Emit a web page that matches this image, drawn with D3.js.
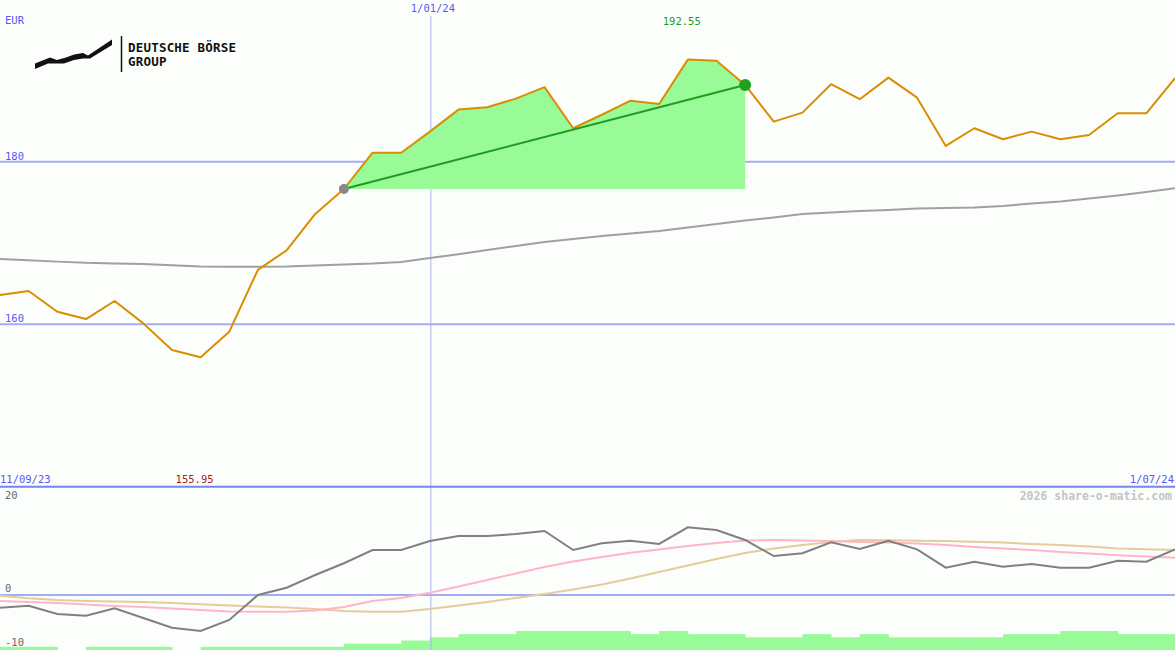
<!DOCTYPE html>
<html><head><meta charset="utf-8">
<script src="https://cdn.jsdelivr.net/npm/d3@7"></script>
<style>
html,body{margin:0;padding:0;background:#fcfefc;}
svg{display:block;}
text{font-family:"DejaVu Sans Mono",monospace;}
</style></head><body>
<svg id="c" width="1175" height="650"></svg>
<script>
// ---- data (weekly closes, index-based) ----
const price = [163.6,164.1,161.55,160.65,162.87,160.12,156.84,155.95,159.1,166.7,169.1,173.57,176.64,181.1,181.1,183.7,186.4,186.69,187.75,189.16,184.11,185.77,187.5,187.1,192.55,192.4,189.43,184.92,186.03,189.52,187.68,190.33,187.87,181.93,184.11,182.76,183.69,182.76,183.28,185.95,185.95,190.26];
const movingAvg = [168.03,167.87,167.71,167.56,167.49,167.42,167.27,167.11,167.08,167.08,167.11,167.23,167.36,167.47,167.66,168.15,168.62,169.14,169.63,170.12,170.49,170.86,171.17,171.48,171.91,172.34,172.77,173.14,173.57,173.75,173.94,174.06,174.24,174.31,174.37,174.55,174.86,175.1,175.47,175.84,176.27,176.73];
const momentum = [-2.62,-2.21,-3.92,-4.27,-2.74,-4.74,-6.74,-7.42,-5.15,0,1.5,4.12,6.54,9.28,9.28,11.13,12.16,12.16,12.58,13.2,9.28,10.66,11.2,10.52,13.96,13.4,11.34,8.04,8.6,10.86,9.48,11.2,9.42,5.63,6.87,5.84,6.39,5.63,5.63,7.07,6.87,9.42];
const signalPink = [-1.24,-1.44,-1.65,-1.96,-2.27,-2.47,-2.78,-3.09,-3.4,-3.44,-3.44,-3.2,-2.47,-1.24,-0.62,0.47,1.75,3.09,4.43,5.77,6.91,7.84,8.72,9.38,10.1,10.72,11.24,11.34,11.24,11.13,10.93,10.82,10.62,10.31,9.9,9.59,9.28,8.87,8.56,8.19,7.94,7.69];
const signalTan = [-0.14,-0.68,-1.03,-1.24,-1.34,-1.44,-1.65,-1.92,-2.16,-2.37,-2.58,-2.89,-3.3,-3.44,-3.44,-2.89,-2.16,-1.44,-0.62,0.21,1.13,2.16,3.4,4.74,6.08,7.42,8.66,9.59,10.31,10.93,11.34,11.28,11.2,11.13,10.99,10.82,10.52,10.31,10.0,9.59,9.42,9.28];
const volume = [1,1,0,1,1,1,0,1,1,1,1,1,2,2,3,4,5,5,6,6,6,6,5,6,5,5,4,4,5,4,5,4,4,4,4,5,5,6,6,5,5];
const mainTicks = [160,180];
const lowerTicks = [20,0,-10];
const dateStart = "11/09/23", dateMid = "1/01/24", dateEnd = "1/07/24";
const midIndex = 15;
const trendStart = 12, trendEnd = 26;
const currency = "EUR";
const watermark = "2026 share-o-matic.com";

// ---- scales ----
const W = 1175, H = 650;
const svg = d3.select("#c");
const x = d3.scaleLinear().domain([0, price.length-1]).range([0, W]);
const y = d3.scaleLinear().domain([140, 200]).range([487, -1]);
const yl = d3.scaleLinear().domain([0, 10]).range([595, 546.5]);
const yv = d3.scaleLinear().domain([0, 6]).range([650, 631]);

const blue = "#5858f4";

// background
svg.append("rect").attr("width",W).attr("height",H).attr("fill","#fcfefc");

// volume bars
svg.append("g").selectAll("rect").data(volume).join("rect")
  .attr("x",(d,i)=>x(i)).attr("width",(d,i)=>x(i+1)-x(i)+0.5)
  .attr("y",d=>yv(d)).attr("height",d=>yv(0)-yv(d)).attr("fill","#98fb98");

// main gridlines
svg.append("g").selectAll("line").data(mainTicks).join("line")
  .attr("x1",0).attr("x2",W).attr("y1",d=>y(d)).attr("y2",d=>y(d))
  .attr("stroke","#a4adf4").attr("stroke-width",2);
svg.append("g").selectAll("text").data(mainTicks).join("text")
  .attr("x",5).attr("y",d=>y(d)-2).text(d=>d)
  .attr("font-size",10.5).attr("fill",blue);

// lower zero line
svg.append("line").attr("x1",0).attr("x2",W).attr("y1",yl(0)).attr("y2",yl(0))
  .attr("stroke","#a4adf4").attr("stroke-width",2);
svg.append("g").selectAll("text").data(lowerTicks).join("text")
  .attr("x",5).attr("y",d=> d>0 ? 499 : (d<0 ? 646 : yl(d)-3)).text(d=>d)
  .attr("font-size",10.5).attr("fill","#666");

// vertical date line
svg.append("line").attr("x1",x(midIndex)+1).attr("x2",x(midIndex)+1).attr("y1",16).attr("y2",H)
  .attr("stroke","#aab2ee").attr("stroke-width",1);
svg.append("text").attr("x",x(midIndex)+3).attr("y",12).attr("text-anchor","middle")
  .attr("font-size",10.5).attr("fill",blue).text(dateMid);

// separator
svg.append("line").attr("x1",0).attr("x2",W).attr("y1",486.7).attr("y2",486.7)
  .attr("stroke","#7585ee").attr("stroke-width",2);

// trend fill
const base = price[trendStart];
const seg = d3.range(trendStart, trendEnd+1);
const area = d3.area().x(i=>x(i)).y0(y(base)).y1(i=>y(price[i]));
svg.append("path").attr("d",area(seg)).attr("fill","#98fb98");

// moving average
const line = (arr, sc) => d3.line().x((d,i)=>x(i)).y(d=>sc(d))(arr);
svg.append("path").attr("d",line(movingAvg,y)).attr("fill","none").attr("stroke","#a0a0a0").attr("stroke-width",2);

// price line
svg.append("path").attr("d",line(price,y)).attr("fill","none").attr("stroke","#d98e00").attr("stroke-width",2).attr("stroke-linejoin","round");

// trend line and dots
svg.append("line").attr("x1",x(trendStart)).attr("y1",y(price[trendStart]))
  .attr("x2",x(trendEnd)).attr("y2",y(price[trendEnd]))
  .attr("stroke","#229a22").attr("stroke-width",2);
svg.append("circle").attr("cx",x(trendStart)).attr("cy",y(price[trendStart])).attr("r",5).attr("fill","#888");
svg.append("circle").attr("cx",x(trendEnd)).attr("cy",y(price[trendEnd])).attr("r",6).attr("fill","#22a022");

// lower lines
svg.append("path").attr("d",line(signalTan,yl)).attr("fill","none").attr("stroke","#e4cc9c").attr("stroke-width",2);
svg.append("path").attr("d",line(signalPink,yl)).attr("fill","none").attr("stroke","#ffb4cc").attr("stroke-width",2);
svg.append("path").attr("d",line(momentum,yl)).attr("fill","none").attr("stroke","#808080").attr("stroke-width",2);

// max / min labels
const iMax = d3.maxIndex(price), iMin = d3.minIndex(price);
svg.append("text").attr("x",x(iMax)-25).attr("y",25).attr("font-size",10.5).attr("fill","#229a22").text(price[iMax].toFixed(2));
svg.append("text").attr("x",x(iMin)-25).attr("y",483).attr("font-size",10.5).attr("fill","#aa1a1a").text(price[iMin].toFixed(2));

// date labels
svg.append("text").attr("x",0).attr("y",483).attr("font-size",10.5).attr("fill",blue).text(dateStart);
svg.append("text").attr("x",1174).attr("y",483).attr("text-anchor","end").attr("font-size",10.5).attr("fill",blue).text(dateEnd);
svg.append("text").attr("x",5).attr("y",24).attr("font-size",10.5).attr("fill",blue).text(currency);

// watermark
svg.append("text").attr("x",1172).attr("y",500).attr("text-anchor","end").attr("font-size",11.5)
  .attr("font-weight","bold").attr("fill","#c4c4c4").text(watermark);

// logo
const lg = svg.append("g");
lg.append("path").attr("d","M35,63.5 L50,57.5 L57,60 L66,57.5 L74,54.5 L83,53 L88,55.5 L112,39.5 L112,45 L90,58.5 L83,58.5 L74,60 L64,63.5 L56,63.5 L48,63.5 L35,69 Z").attr("fill","#111");
lg.append("line").attr("x1",121.5).attr("x2",121.5).attr("y1",36).attr("y2",72).attr("stroke","#111").attr("stroke-width",1.5);
lg.append("text").attr("x",128).attr("y",52).attr("font-family","'Liberation Sans',Arial,sans-serif").attr("font-weight","bold").attr("font-size",12.5).attr("letter-spacing",0.2).attr("fill","#111").text("DEUTSCHE BÖRSE");
lg.append("text").attr("x",128).attr("y",66).attr("font-family","'Liberation Sans',Arial,sans-serif").attr("font-weight","bold").attr("font-size",12.5).attr("letter-spacing",0.2).attr("fill","#111").text("GROUP");
</script>
</body></html>
